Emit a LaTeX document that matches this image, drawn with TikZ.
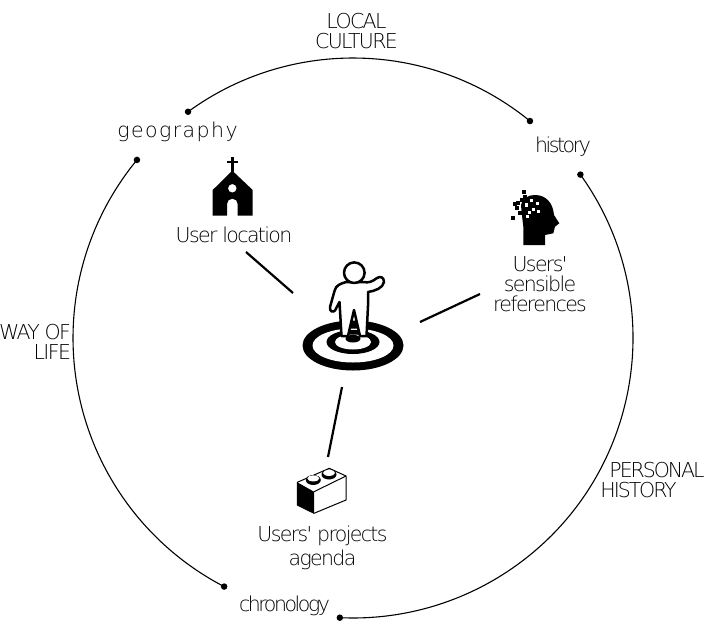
\documentclass[tikz,border=0pt]{standalone}
\usepackage{fontspec}
\usepackage{xcolor}
\usetikzlibrary{arrows.meta,positioning,calc}
\newfontfamily\thinfont[LetterSpace=-8]{DejaVu Sans ExtraLight}
\newfontfamily\capsfont[LetterSpace=-10]{DejaVu Sans ExtraLight}
\newfontfamily\tightfont[LetterSpace=-12]{DejaVu Sans ExtraLight}
\newfontfamily\wideletters[LetterSpace=7]{DejaVu Sans ExtraLight}
\begin{document}
\begin{tikzpicture}[
  x=1pt,y=-1pt,
  every node/.style={font=\thinfont\fontsize{20.5}{20}\selectfont, align=center, inner sep=0pt},
  ringarc/.style={line width=1.1pt,color=black},
  ringdot/.style={circle,fill=black,minimum size=6.5pt,inner sep=0pt},
  spoke/.style={line width=2.2pt,color=black},
  icon/.style={fill=black,draw=none},
  figure/.style={fill=white,draw=black,line width=2.5pt,line join=round}
]
\useasboundingbox (0,0) rectangle (706,624);
\coordinate (hub) at (353,338);

% Anillo exterior
\coordinate (topStart) at ($(hub)+(126.1:280pt)$);
\coordinate (topEnd) at ($(hub)+(50.8:280pt)$);
\coordinate (leftStart) at ($(hub)+(140.5:280pt)$);
\coordinate (leftEnd) at ($(hub)+(242.6:280pt)$);
\coordinate (rightStart) at ($(hub)+(35.7:280pt)$);
\coordinate (rightEnd) at ($(hub)+(-92.7:280pt)$);
\draw[ringarc] (topStart) arc[start angle=126.1,end angle=50.8,radius=280pt];
\draw[ringarc] (leftStart) arc[start angle=140.5,end angle=242.6,radius=280pt];
\draw[ringarc] (rightStart) arc[start angle=35.7,end angle=-92.7,radius=280pt];
\foreach \p in {topStart,topEnd,leftStart,leftEnd,rightStart,rightEnd}
  \node[ringdot] at (\p) {};

% Textos del anillo
\node (culture) at (356.5,31) {LOCAL\\CULTURE};
\node (wayoflife) at (35,341.5) [align=right] {WAY OF\\LIFE};
\node[font=\capsfont\fontsize{20.5}{20}\selectfont] (personal) at (652.5,480.5) [align=left] {\hspace*{9pt}PERSONAL\\HISTORY};
\node[font=\wideletters\fontsize{20.5}{20}\selectfont] (geography) at (177.5,132) {geography};
\node[font=\tightfont\fontsize{20.5}{20}\selectfont] (history) at (563,147) {history};
\node[font=\tightfont\fontsize{20.5}{20}\selectfont] (chronology) at (284.5,606) {chronology};

% Diana y figura central
\fill (353,345.5) ellipse[x radius=50.5pt,y radius=25pt];
\fill[white] (353,345.5) ellipse[x radius=40.5pt,y radius=17pt];
\fill (353,342) ellipse[x radius=26.5pt,y radius=12pt];
\fill[white] (353,342) ellipse[x radius=18pt,y radius=7.5pt];
\fill (353,338.7) ellipse[x radius=7.5pt,y radius=3.8pt];
\draw[figure] (346,282) .. controls (340,284) and (336,285) .. (334.5,291)
  -- (330,307) .. controls (329.5,312) and (333,312.5) .. (335,310.5)
  -- (339.5,302) -- (341.5,336) -- (348,336) -- (354,310) -- (360,336) -- (366.5,336)
  -- (368,306) -- (368,292) .. controls (375,291) and (383,288) .. (384,282)
  .. controls (384,277) and (380,276) .. (377,278)
  .. controls (372,282) and (368,283) .. (364,282) -- cycle;
\draw[figure] (354.3,272.7) circle[radius=10.3pt];

% Radios
\coordinate (spokeA) at (246,252);
\coordinate (spokeAend) at (293,293);
\coordinate (spokeB) at (480,294);
\coordinate (spokeBend) at (420,322);
\coordinate (spokeC) at (328,457);
\coordinate (spokeCend) at (342,387);
\draw[spoke] (spokeA) -- (spokeAend);
\draw[spoke] (spokeB) -- (spokeBend);
\draw[spoke] (spokeC) -- (spokeCend);

% Iglesia
\fill[icon] (231,156.7) rectangle (233.7,173);
\fill[icon] (226.7,160.5) rectangle (238,163);
\fill[icon,even odd rule] (232.3,170.7) -- (252.7,190) -- (252.7,215.7) -- (237.7,215.7)
  -- (237.7,204) arc[start angle=0,end angle=180,radius=5.35pt] -- (227,215.7)
  -- (212.7,215.7) -- (212.7,190) -- cycle
  (232.3,188.3) circle[radius=4.3pt];
\node (location) at (234,235) {User location};

% Cabeza
\fill[icon] (523.3,245) -- (545,245) -- (545,235) -- (553.3,233.3) -- (555,226.7)
  -- (559.3,223.3) -- (554,215) .. controls (553,203) and (546,195) .. (535,195)
  .. controls (528,195) and (523,198) .. (521,205) -- (521.7,213) -- (523.3,226.7) -- cycle;
\foreach \px/\py in {524.3/192.3,513.3/217.7,518.3/203.3,521.7/200,516.7/208.3,520/213.3,515/204,525/197}
  \fill[icon] (\px-1.9,\py-1.9) rectangle (\px+1.9,\py+1.9);
\foreach \px/\py in {531.7/200.7,526.7/205,537.3/203.3,533.3/209.3,529.3/212.7,538.3/211.7,527.7/216.7}
  \fill[white] (\px-1.6,\py-1.6) rectangle (\px+1.6,\py+1.6);
\node (references) at (540,284.5) {Users'\\sensible\\references};

% Pieza de construccion
\draw[line width=1pt,line join=round,fill=white] (297.3,482.3) -- (329.3,468.3) -- (346,476) -- (346,500)
  -- (314,513.3) -- (297.3,505) -- cycle;
\fill[icon] (297.3,482.3) -- (314,491.7) -- (314,513.3) -- (297.3,505) -- cycle;
\draw[line width=1pt] (314,491.7) -- (346,476);
\foreach \sx/\sy in {313.3/480,329/474.5}{
  \fill[icon] (\sx,\sy) ellipse[x radius=7.5pt,y radius=5pt];
  \fill[white] (\sx,\sy-1.6) ellipse[x radius=6pt,y radius=3pt];
}
\node[font=\thinfont\fontsize{20.5}{24}\selectfont] (agenda) at (322.5,547.5) {Users' projects\\agenda};
\end{tikzpicture}
\end{document}
